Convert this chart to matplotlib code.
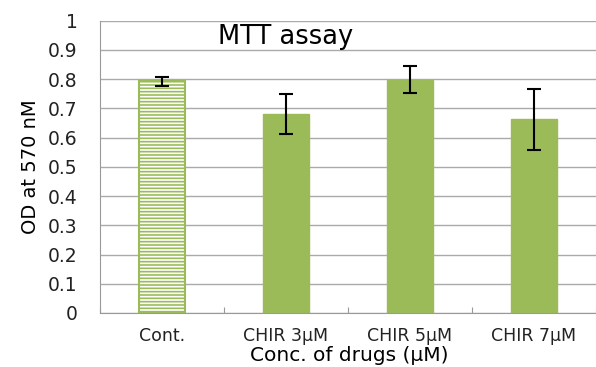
import matplotlib.pyplot as plt
import numpy as np

# values
categories = ["Cont.", "CHIR 3\u00b5M", "CHIR 5\u00b5M", "CHIR 7\u00b5M"]
od_mean = [0.792, 0.680, 0.798, 0.662]
od_err = [0.016, 0.068, 0.047, 0.104]

green = "#9bbb59"
plt.rcParams['hatch.color'] = green
plt.rcParams['hatch.linewidth'] = 1.2
plt.rcParams['font.family'] = "DejaVu Sans"

fig = plt.figure(figsize=(5.96, 3.67), dpi=100)
ax = fig.add_axes([100/596, 1-313/367, 496/596, 292.3/367])

x = np.arange(len(categories))
bars = ax.bar(x, od_mean, width=0.37, color=green, edgecolor=green, zorder=2)
# control bar: white with horizontal green stripes
bars[0].set_facecolor("white")
bars[0].set_hatch("-----")
bars[0].set_linewidth(1.5)

ax.errorbar(x, od_mean, yerr=od_err, fmt="none", ecolor="black",
            elinewidth=1.5, capsize=5, capthick=1.5, zorder=3)

ax.set_xlim(-0.5, len(categories) - 0.5)
ax.set_ylim(0, 1)
ax.set_yticks(np.arange(0, 1.01, 0.1))
ax.set_yticklabels(["0", "0.1", "0.2", "0.3", "0.4", "0.5", "0.6", "0.7", "0.8", "0.9", "1"])
ax.yaxis.grid(True, color="#aaaaaa", linewidth=1, zorder=0)
ax.set_axisbelow(True)

# boundary ticks (major, no labels) + category labels on minor ticks
ax.set_xticks(np.arange(-0.5, len(categories), 1))
ax.set_xticklabels([])
ax.set_xticks(x, minor=True)
ax.set_xticklabels(categories, minor=True)
ax.tick_params(axis="x", which="both", direction="in", length=4, color="#999999",
               pad=10, labelsize=12.5, labelcolor="#222222")
ax.tick_params(axis="y", length=0, pad=16, labelsize=13.5, labelcolor="#222222")

for s in ["top", "right"]:
    ax.spines[s].set_visible(False)
ax.spines["left"].set_color("#999999")
ax.spines["bottom"].set_color("#999999")

fig.text(349/596, 2/367, "Conc. of drugs (\u00b5M)", fontsize=14.5,
         ha="center", va="bottom")
ax.set_ylabel("OD at 570 nM", fontsize=14, family="DejaVu Sans Condensed", labelpad=6)

ax.text(0.238, 0.945, "MTT assay", transform=ax.transAxes, fontsize=18.5,
        va="center", ha="left")

plt.savefig("out.png", dpi=100)
